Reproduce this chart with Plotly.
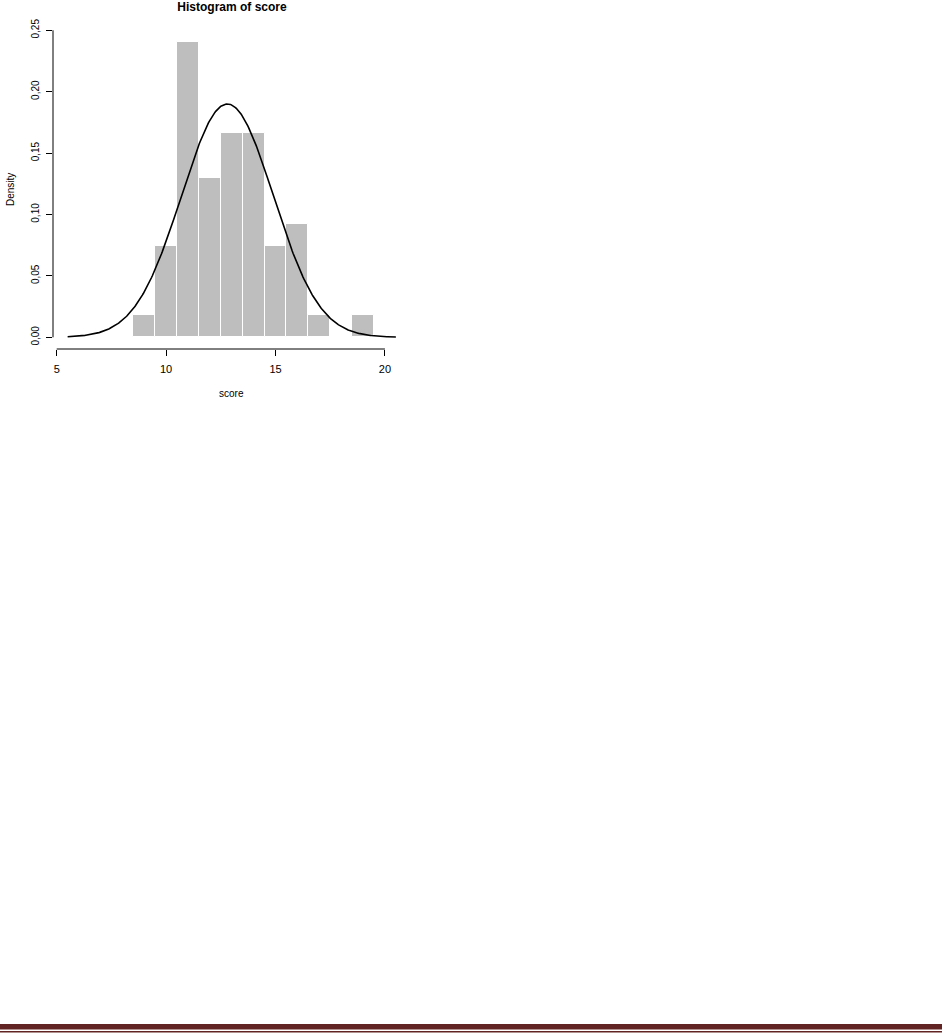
import numpy as np
import plotly.graph_objects as go

# ---- data ----
bin_left = [8.5, 9.5, 10.5, 11.5, 12.5, 13.5, 14.5, 15.5, 16.5, 17.5, 18.5]
bin_right = [9.5, 10.5, 11.5, 12.5, 13.5, 14.5, 15.5, 16.5, 17.5, 18.5, 19.5]
density = [0.0185, 0.074, 0.2407, 0.1296, 0.1667, 0.1667, 0.074, 0.0926, 0.0185, 0.0, 0.0185]
fit_mean = 12.8
fit_sd = 2.10
curve_from, curve_to = 5.5, 20.5
x_ticks = [5, 10, 15, 20]
y_ticks = [0.00, 0.05, 0.10, 0.15, 0.20, 0.25]
y_tick_text = ["0,00", "0,05", "0,10", "0,15", "0,20", "0,25"]

# ---- layout geometry (pixels) ----
W, H = 942, 1033
L, R, T, B = 53, 533, 30, 684
PW, PH = W - L - R, H - T - B


def px(xp):
    return (xp - L) / PW


def py(yp):
    return (H - B - yp) / PH


FONT = "Liberation Sans, Arial, Helvetica, sans-serif"

centers = [(a + b) / 2 for a, b in zip(bin_left, bin_right)]
widths = [b - a for a, b in zip(bin_left, bin_right)]

xs = np.linspace(curve_from, curve_to, 400)
ys = np.exp(-0.5 * ((xs - fit_mean) / fit_sd) ** 2) / (fit_sd * np.sqrt(2 * np.pi))

fig = go.Figure()
fig.add_trace(go.Bar(
    x=centers, y=density, width=widths,
    marker=dict(color="#BEBEBE", line=dict(color="white", width=1)),
    hoverinfo="skip", showlegend=False,
))
fig.add_trace(go.Scatter(
    x=xs, y=ys, mode="lines",
    line=dict(color="black", width=1.6),
    hoverinfo="skip", showlegend=False,
))

shapes = [
    # R-style axis lines spanning the tick range only
    dict(type="line", xref="x", yref="paper", x0=x_ticks[0], x1=x_ticks[-1], y0=0, y1=0,
         line=dict(color="black", width=1)),
    dict(type="line", xref="paper", yref="y", x0=0, x1=0, y0=y_ticks[0], y1=y_ticks[-1],
         line=dict(color="black", width=1)),
    # page footer rules
    dict(type="rect", xref="paper", yref="paper", x0=px(0), x1=px(W), y0=py(1029.5), y1=py(1024),
         line=dict(width=0), fillcolor="#622423", layer="above"),
    dict(type="rect", xref="paper", yref="paper", x0=px(0), x1=px(W), y0=py(1032.5), y1=py(1031),
         line=dict(width=0), fillcolor="#622423", layer="above"),
]

annotations = [
    dict(text="score", xref="paper", yref="paper", x=px(232), y=py(393),
         showarrow=False, font=dict(family=FONT, size=10, color="black"),
         xanchor="center", yanchor="middle"),
    dict(text="Density", xref="paper", yref="paper", x=px(11), y=py(190),
         showarrow=False, textangle=-90, font=dict(family=FONT, size=10, color="black"),
         xanchor="center", yanchor="middle"),
]

fig.update_layout(
    template="none",
    width=W, height=H,
    margin=dict(l=L, r=R, t=T, b=B, pad=0, autoexpand=False),
    paper_bgcolor="white", plot_bgcolor="white",
    bargap=0,
    title=dict(text="<b>Histogram of score</b>", x=px(232), xref="paper", xanchor="center",
               y=1 - 7 / H, yref="container", yanchor="middle",
               font=dict(family=FONT, size=12, color="black")),
    xaxis=dict(range=[4.831, 21.1], tickvals=x_ticks, ticktext=[str(v) for v in x_ticks],
               ticks="outside", ticklen=6, tickwidth=1, tickcolor="black",
               ticklabelstandoff=4,
               showgrid=False, zeroline=False, showline=False, automargin=False,
               tickfont=dict(family=FONT, size=11, color="black")),
    yaxis=dict(range=[-0.00953, 0.2502], tickvals=y_ticks, ticktext=y_tick_text,
               ticks="outside", ticklen=6, tickwidth=1, tickcolor="black", tickangle=-90,
               ticklabelstandoff=3,
               showgrid=False, zeroline=False, showline=False, automargin=False,
               tickfont=dict(family=FONT, size=10, color="black")),
    shapes=shapes,
    annotations=annotations,
)

fig.write_html(
    "out.html",
    config={"displayModeBar": False},
    post_script="document.body.style.margin='0';document.body.style.overflow='hidden';",
)
